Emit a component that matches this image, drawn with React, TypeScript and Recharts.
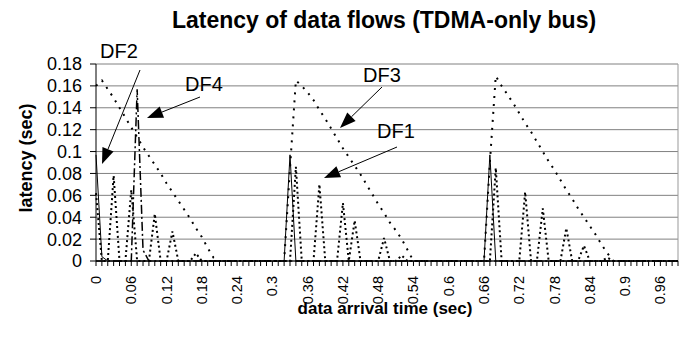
import { CartesianGrid, Line, LineChart, ReferenceLine, XAxis, YAxis } from "recharts";

const times = [
  0, 0.01, 0.02, 0.03, 0.04, 0.05, 0.06, 0.07, 0.08, 0.09,
  0.1, 0.11, 0.12, 0.13, 0.14, 0.15, 0.16, 0.17, 0.18, 0.19,
  0.2, 0.21, 0.22, 0.23, 0.24, 0.25, 0.26, 0.27, 0.28, 0.29,
  0.3, 0.31, 0.32, 0.33, 0.34, 0.35, 0.36, 0.37, 0.38, 0.39,
  0.4, 0.41, 0.42, 0.43, 0.44, 0.45, 0.46, 0.47, 0.48, 0.49,
  0.5, 0.51, 0.52, 0.53, 0.54, 0.55, 0.56, 0.57, 0.58, 0.59,
  0.6, 0.61, 0.62, 0.63, 0.64, 0.65, 0.66, 0.67, 0.68, 0.69,
  0.7, 0.71, 0.72, 0.73, 0.74, 0.75, 0.76, 0.77, 0.78, 0.79,
  0.8, 0.81, 0.82, 0.83, 0.84, 0.85, 0.86, 0.87, 0.88, 0.89,
  0.9, 0.91, 0.92, 0.93, 0.94, 0.95, 0.96, 0.97, 0.98, 0.99,
];

// DF1: small decaying bursts
const df1 = [
  0.062, 0, 0, 0.078, 0, 0, 0.065, 0, 0, 0,
  0.043, 0, 0, 0.027, 0, 0, 0, 0.007, 0, 0,
  0, 0, 0, 0, 0, 0, 0, 0, 0, 0,
  0, 0, 0, 0, 0.086, 0, 0, 0, 0.07, 0,
  0, 0, 0.053, 0, 0.037, 0, 0, 0, 0, 0.021,
  0, 0, 0.005, 0, 0, 0, 0, 0, 0, 0,
  0, 0, 0, 0, 0, 0, 0, 0, 0.085, 0,
  0, 0, 0, 0.063, 0, 0, 0.048, 0, 0, 0,
  0.03, 0, 0, 0.014, 0, 0, 0, 0.003, 0, 0,
  0, 0, 0, 0, 0, 0, 0, 0, 0, 0,
];

// DF2: solid spikes
const df2 = [
  0.097, 0.004, 0, 0, 0, 0, 0, 0, 0, 0,
  0, 0, 0, 0, 0, 0, 0, 0, 0, 0,
  0, 0, 0, 0, 0, 0, 0, 0, 0, 0,
  0, 0, 0, 0.097, 0, 0, 0, 0, 0, 0,
  0, 0, 0, 0, 0, 0, 0, 0, 0, 0,
  0, 0, 0, 0, 0, 0, 0, 0, 0, 0,
  0, 0, 0, 0, 0, 0, 0, 0.097, 0, 0,
  0, 0, 0, 0, 0, 0, 0, 0, 0, 0,
  0, 0, 0, 0, 0, 0, 0, 0, 0, 0,
  0, 0, 0, 0, 0, 0, 0, 0, 0, 0,
];

// DF3: large triangles
const df3 = [
  0.16, 0.165, 0.157, 0.149, 0.14, 0.131, 0.122, 0.113, 0.104, 0.096,
  0.088, 0.08, 0.071, 0.063, 0.055, 0.047, 0.039, 0.03, 0.022, 0.012,
  0.003, 0, 0, 0, 0, 0, 0, 0, 0, 0,
  0, 0, 0, 0.085, 0.165, 0.16, 0.154, 0.147, 0.138, 0.13,
  0.121, 0.112, 0.103, 0.095, 0.087, 0.079, 0.07, 0.061, 0.052, 0.044,
  0.035, 0.028, 0.02, 0.01, 0, 0, 0, 0, 0, 0,
  0, 0, 0, 0, 0, 0, 0, 0.09, 0.169, 0.16,
  0.152, 0.144, 0.135, 0.126, 0.118, 0.109, 0.1, 0.091, 0.083, 0.074,
  0.065, 0.057, 0.048, 0.04, 0.032, 0.024, 0.015, 0.007, 0, 0,
  0, 0, 0, 0, 0, 0, 0, 0, 0, 0,
];

// DF4: one spike in the first cycle
const df4 = [
  0, 0, 0, 0, 0, 0, 0, 0.157, 0.01, 0,
  0, 0, 0, 0, 0, 0, 0, 0, 0, 0,
  0, 0, 0, 0, 0, 0, 0, 0, 0, 0,
  0, 0, 0, 0, 0, 0, 0, 0, 0, 0,
  0, 0, 0, 0, 0, 0, 0, 0, 0, 0,
  0, 0, 0, 0, 0, 0, 0, 0, 0, 0,
  0, 0, 0, 0, 0, 0, 0, 0, 0, 0,
  0, 0, 0, 0, 0, 0, 0, 0, 0, 0,
  0, 0, 0, 0, 0, 0, 0, 0, 0, 0,
  0, 0, 0, 0, 0, 0, 0, 0, 0, 0,
];

const yTicks = [0, 0.02, 0.04, 0.06, 0.08, 0.1, 0.12, 0.14, 0.16, 0.18];

const rows = times.map((t, i) => ({
  t,
  df1: df1[i],
  df2: df2[i],
  df3: df3[i],
  df4: df4[i],
}));

const FONT = '"Liberation Sans", Arial, sans-serif';

const fmt = (v: number) => String(Number(Number(v).toFixed(2)));

function TimeTick(props: any) {
  const { x, y, payload } = props;
  const k = Math.round(Number(payload.value) * 100);
  if (k % 6 !== 0) return <g />;
  const tx = x + 5;
  const ty = y + 8;
  return (
    <text
      x={tx}
      y={ty}
      transform={`rotate(-90, ${tx}, ${ty})`}
      textAnchor="end"
      fontSize={14.5}
      fontFamily={FONT}
      fill="#000"
    >
      {fmt(payload.value)}
    </text>
  );
}

function Arrow({ x1, y1, x2, y2 }: { x1: number; y1: number; x2: number; y2: number }) {
  const dx = x2 - x1;
  const dy = y2 - y1;
  const len = Math.hypot(dx, dy);
  const ux = dx / len;
  const uy = dy / len;
  const hl = 16;
  const hw = 6;
  const bx = x2 - ux * hl;
  const by = y2 - uy * hl;
  const pts = `${x2},${y2} ${bx - uy * hw},${by + ux * hw} ${bx + uy * hw},${by - ux * hw}`;
  return (
    <g>
      <line x1={x1} y1={y1} x2={bx} y2={by} stroke="#000" strokeWidth={1} />
      <polygon points={pts} fill="#000" />
    </g>
  );
}

export default function App() {
  return (
    <div
      style={{
        position: "absolute",
        left: 0,
        top: 0,
        width: 688,
        height: 341,
        background: "#fff",
        fontFamily: FONT,
      }}
    >
      <LineChart
        width={688}
        height={341}
        data={rows}
        margin={{ top: 64, right: 10, left: 0, bottom: 0 }}
      >
        <CartesianGrid vertical={false} stroke="#808080" />
        <XAxis
          dataKey="t"
          interval={0}
          tickSize={5}
          tick={<TimeTick />}
          height={80}
          axisLine={{ stroke: "#000" }}
          tickLine={{ stroke: "#000" }}
        />
        <YAxis
          width={96}
          domain={[0, 0.18]}
          ticks={yTicks}
          interval={0}
          tickFormatter={fmt}
          tickSize={6}
          tickMargin={8}
          axisLine={{ stroke: "#000" }}
          tickLine={{ stroke: "#000" }}
          tick={{ fontSize: 18, fill: "#000", fontFamily: FONT }}
        />
        <ReferenceLine x={times[times.length - 1]} stroke="#999" />
        <Line
          type="linear"
          dataKey="df3"
          stroke="#000"
          strokeWidth={2}
          strokeDasharray="2 6"
          dot={false}
          isAnimationActive={false}
        />
        <Line
          type="linear"
          dataKey="df1"
          stroke="#000"
          strokeWidth={2}
          strokeDasharray="2 3"
          dot={false}
          isAnimationActive={false}
        />
        <Line
          type="linear"
          dataKey="df4"
          stroke="#000"
          strokeWidth={1.5}
          strokeDasharray="9 3 2 3"
          dot={false}
          isAnimationActive={false}
        />
        <Line
          type="linear"
          dataKey="df2"
          stroke="#000"
          strokeWidth={1}
          dot={false}
          isAnimationActive={false}
        />
      </LineChart>
      <svg
        width={688}
        height={341}
        style={{ position: "absolute", left: 0, top: 0, pointerEvents: "none" }}
      >
        <text x={384} y={28} textAnchor="middle" fontSize={23} fontWeight="bold" fontFamily={FONT}>
          Latency of data flows (TDMA-only bus)
        </text>
        <text
          x={32}
          y={158}
          transform="rotate(-90, 32, 158)"
          textAnchor="middle"
          fontSize={18}
          fontWeight="bold"
          fontFamily={FONT}
        >
          latency (sec)
        </text>
        <text x={385} y={314} textAnchor="middle" fontSize={17} fontWeight="bold" fontFamily={FONT}>
          data arrival time (sec)
        </text>
        <text x={100} y={58} fontSize={20} fontFamily={FONT}>DF2</text>
        <text x={185} y={91} fontSize={20} fontFamily={FONT}>DF4</text>
        <text x={363} y={82} fontSize={20} fontFamily={FONT}>DF3</text>
        <text x={377} y={138} fontSize={20} fontFamily={FONT}>DF1</text>
        <Arrow x1={140} y1={70} x2={102} y2={164} />
        <Arrow x1={200} y1={97} x2={147} y2={118} />
        <Arrow x1={382} y1={87} x2={340} y2={128} />
        <Arrow x1={397} y1={147} x2={324} y2={178} />
      </svg>
    </div>
  );
}
